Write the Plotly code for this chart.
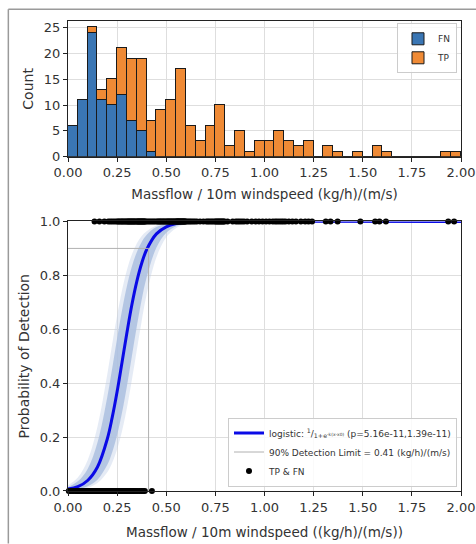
import plotly.graph_objects as go

# ---------------- data ----------------
# histogram: 40 bins of width 0.05 between 0 and 2
bin_width = 0.05
bin_left = [round(i * 0.05, 2) for i in range(40)]
fn_counts = [6, 11, 24, 11, 10, 12, 7, 5, 1, 0,
             0, 0, 0, 0, 0, 0, 0, 0, 0, 0,
             0, 0, 0, 0, 0, 0, 0, 0, 0, 0,
             0, 0, 0, 0, 0, 0, 0, 0, 0, 0]
tp_counts = [0, 0, 1, 2, 5, 9, 12, 14, 6, 9,
             11, 17, 6, 3, 6, 10, 2, 5, 1, 3,
             3, 5, 3, 2, 3, 0, 2, 1, 0, 1,
             0, 2, 1, 0, 0, 0, 0, 0, 1, 1]

# fitted probability of detection curve and its confidence bands
curve_x = [0, 0.05, 0.1, 0.15, 0.2, 0.225, 0.25, 0.275, 0.3, 0.325, 0.35, 0.375,
           0.4, 0.45, 0.5, 0.55, 0.6, 0.7, 2.0]
curve_p = [0.007, 0.016, 0.039, 0.089, 0.193, 0.273, 0.369, 0.478, 0.588, 0.691, 0.777, 0.845,
           0.895, 0.954, 0.980, 0.992, 0.997, 0.9994, 1.0]
inner_hi = [0.015, 0.036, 0.082, 0.180, 0.349, 0.455, 0.567, 0.671, 0.761, 0.833, 0.886, 0.924,
            0.950, 0.979, 0.991, 0.996, 0.9985, 0.9998, 1.0]
inner_lo = [0.003, 0.007, 0.018, 0.042, 0.097, 0.144, 0.208, 0.291, 0.390, 0.500, 0.610, 0.710,
            0.792, 0.903, 0.958, 0.982, 0.993, 0.9988, 1.0]
outer_hi = [0.021, 0.050, 0.114, 0.239, 0.433, 0.545, 0.651, 0.745, 0.820, 0.877, 0.918, 0.946,
            0.964, 0.985, 0.994, 0.9975, 0.999, 1.0, 1.0]
outer_lo = [0.002, 0.005, 0.012, 0.030, 0.070, 0.105, 0.155, 0.223, 0.309, 0.412, 0.522, 0.631,
            0.728, 0.867, 0.941, 0.975, 0.9895, 0.9982, 1.0]

detection_limit = 0.41
detection_level = 0.9

# individual samples: TP detected (1), FN missed (0)
tp_x = [0.135,
        0.16, 0.185,
        0.205, 0.215, 0.225, 0.235, 0.245,
        0.253, 0.258, 0.264, 0.27, 0.275, 0.28, 0.286, 0.291, 0.297,
        0.302, 0.306, 0.31, 0.314, 0.318, 0.322, 0.326, 0.33, 0.334, 0.338, 0.342, 0.347,
        0.352, 0.355, 0.358, 0.362, 0.365, 0.368, 0.372, 0.375, 0.378, 0.382, 0.385, 0.388, 0.392, 0.396,
        0.404, 0.412, 0.42, 0.428, 0.436, 0.444,
        0.453, 0.458, 0.464, 0.469, 0.474, 0.48, 0.485, 0.49, 0.496,
        0.502, 0.506, 0.511, 0.515, 0.52, 0.524, 0.529, 0.533, 0.538, 0.542, 0.547,
        0.551, 0.554, 0.557, 0.56, 0.562, 0.565, 0.568, 0.571, 0.574, 0.577, 0.58, 0.583,
        0.586, 0.589, 0.592, 0.595, 0.598,
        0.604, 0.612, 0.62, 0.628, 0.637, 0.646,
        0.656, 0.672, 0.689,
        0.704, 0.712, 0.72, 0.729, 0.737, 0.746,
        0.752, 0.757, 0.762, 0.767, 0.772, 0.777, 0.782, 0.787, 0.792, 0.797,
        0.812, 0.838,
        0.854, 0.864, 0.874, 0.885, 0.896,
        0.912, 0.935,
        0.955, 0.972, 0.99,
        1.008, 1.025, 1.042,
        1.054, 1.064, 1.075, 1.086, 1.096,
        1.107, 1.124, 1.142,
        1.16, 1.185,
        1.207, 1.224, 1.242,
        1.312, 1.336,
        1.372,
        1.488,
        1.563, 1.585,
        1.618,
        1.935,
        1.965]
fn_x = [0.004, 0.012, 0.021, 0.029, 0.038, 0.046,
        0.052, 0.056, 0.061, 0.065, 0.07, 0.074, 0.078, 0.083, 0.087, 0.092, 0.097,
        0.101, 0.103, 0.105, 0.107, 0.109, 0.111, 0.113, 0.115, 0.117, 0.119, 0.121, 0.123,
        0.125, 0.127, 0.129, 0.131, 0.133, 0.135, 0.137, 0.139, 0.141, 0.143, 0.145, 0.148,
        0.152, 0.156, 0.161, 0.165, 0.17, 0.174, 0.178, 0.183, 0.187, 0.192, 0.197,
        0.203, 0.208, 0.213, 0.218, 0.223, 0.228, 0.233, 0.238, 0.243, 0.248,
        0.252, 0.256, 0.26, 0.264, 0.268, 0.272, 0.276, 0.28, 0.284, 0.288, 0.292, 0.296,
        0.304, 0.311, 0.318, 0.325, 0.332, 0.339, 0.346,
        0.355, 0.364, 0.373, 0.382, 0.391,
        0.427]

x_ticks = [0, 0.25, 0.5, 0.75, 1.0, 1.25, 1.5, 1.75, 2.0]
count_ticks = [0, 5, 10, 15, 20, 25]
prob_ticks = [0, 0.2, 0.4, 0.6, 0.8, 1.0]

# ---------------- figure ----------------
FONT = "DejaVu Sans"
BLUE = "#3a76b4"
ORANGE = "#ef8a35"
GRID = "#dedede"

W, H = 476, 544
ML, MR, MT, MB = 67.7, 15, 20.7, 52.5
plot_h = H - MT - MB


def ypaper(px):
    return (H - MB - px) / plot_h


def xpaper(px):
    return (px - ML) / (W - ML - MR)


bin_centers = [b + bin_width / 2 for b in bin_left]

fig = go.Figure()

fig.add_trace(go.Bar(x=bin_centers, y=fn_counts, width=bin_width, name="FN",
                     marker=dict(color=BLUE, line=dict(color="#1a1a1a", width=1)),
                     xaxis="x", yaxis="y", legend="legend"))
fig.add_trace(go.Bar(x=bin_centers, y=tp_counts, width=bin_width, name="TP",
                     marker=dict(color=ORANGE, line=dict(color="#1a1a1a", width=1)),
                     xaxis="x", yaxis="y", legend="legend"))

# bands
fig.add_trace(go.Scatter(x=curve_x, y=outer_lo, mode="lines", line=dict(width=0, shape="spline"),
                         showlegend=False, hoverinfo="skip", xaxis="x2", yaxis="y2"))
fig.add_trace(go.Scatter(x=curve_x, y=outer_hi, mode="lines", line=dict(width=0, shape="spline"),
                         fill="tonexty", fillcolor="rgba(190,206,230,0.4)",
                         showlegend=False, hoverinfo="skip", xaxis="x2", yaxis="y2"))
fig.add_trace(go.Scatter(x=curve_x, y=inner_lo, mode="lines", line=dict(width=0, shape="spline"),
                         showlegend=False, hoverinfo="skip", xaxis="x2", yaxis="y2"))
fig.add_trace(go.Scatter(x=curve_x, y=inner_hi, mode="lines", line=dict(width=0, shape="spline"),
                         fill="tonexty", fillcolor="rgba(172,192,223,0.85)",
                         showlegend=False, hoverinfo="skip", xaxis="x2", yaxis="y2"))

logistic_label = ("logistic: <sup>1</sup>/<sub>1+e<sup>-k(x-x0)</sup></sub>"
                  " (p=5.16e-11,1.39e-11)")
fig.add_trace(go.Scatter(x=curve_x, y=curve_p, mode="lines",
                         line=dict(color="#0a0ae6", width=3, shape="spline"),
                         name=logistic_label, xaxis="x2", yaxis="y2", legend="legend2"))
fig.add_trace(go.Scatter(x=[0, detection_limit, detection_limit],
                         y=[detection_level, detection_level, 0], mode="lines",
                         line=dict(color="#b0b0b0", width=1),
                         name="90% Detection Limit = 0.41 (kg/h)/(m/s)",
                         xaxis="x2", yaxis="y2", legend="legend2"))
fig.add_trace(go.Scatter(x=tp_x + fn_x, y=[1] * len(tp_x) + [0] * len(fn_x), mode="markers",
                         marker=dict(color="black", size=6), cliponaxis=False,
                         name="TP & FN", xaxis="x2", yaxis="y2", legend="legend2"))

axis_common = dict(showgrid=True, gridcolor=GRID, gridwidth=1, showline=True,
                   linecolor="#222", linewidth=1, mirror=True, ticks="outside",
                   ticklen=4, tickcolor="#222", tickfont=dict(size=13, color="#333"),
                   zeroline=False, automargin=False)

top_bottom = ypaper(156.7)
bot_top = ypaper(221.5)

fig.update_layout(
    width=W, height=H,
    margin=dict(l=ML, r=MR, t=MT, b=MB),
    paper_bgcolor="white", plot_bgcolor="white",
    barmode="stack", bargap=0,
    font=dict(family=FONT, size=13, color="#333"),
    xaxis=dict(domain=[0, 1], anchor="y", range=[0, 2], tickvals=x_ticks, tickformat=".2f",
               title=dict(text="Massflow / 10m windspeed (kg/h)/(m/s)", font=dict(size=13.5),
                          standoff=10),
               **axis_common),
    yaxis=dict(domain=[top_bottom, 1], anchor="x", range=[0, 26.25], tickvals=count_ticks,
               title=dict(text="Count", font=dict(size=14), standoff=6),
               **axis_common),
    xaxis2=dict(domain=[0, 1], anchor="y2", range=[0, 2], tickvals=x_ticks, tickformat=".2f",
                title=dict(text="Massflow / 10m windspeed ((kg/h)/(m/s))", font=dict(size=13.5),
                           standoff=13),
                **axis_common),
    yaxis2=dict(domain=[0, bot_top], anchor="x2", range=[0, 1], tickvals=prob_ticks,
                tickformat=".1f",
                title=dict(text="Probability of Detection", font=dict(size=14), standoff=6),
                **axis_common),
    legend=dict(x=xpaper(457), y=ypaper(23), xanchor="right", yanchor="top",
                bgcolor="rgba(255,255,255,0.85)", bordercolor="#cccccc", borderwidth=1,
                font=dict(size=9, color="#333"), itemwidth=30, traceorder="normal"),
    legend2=dict(x=xpaper(457), y=ypaper(487), xanchor="right", yanchor="bottom",
                 bgcolor="rgba(255,255,255,0.85)", bordercolor="#cccccc", borderwidth=1,
                 font=dict(size=9, color="#333"), itemwidth=30, traceorder="normal"),
    shapes=[dict(type="line", xref="paper", yref="paper",
                 x0=xpaper(8), x1=xpaper(8), y0=ypaper(544), y1=ypaper(9),
                 line=dict(color="#9a9a9a", width=1.5), layer="below"),
            dict(type="line", xref="paper", yref="paper",
                 x0=xpaper(8), x1=xpaper(476), y0=ypaper(9), y1=ypaper(9),
                 line=dict(color="#9a9a9a", width=1.5), layer="below")],
    showlegend=True,
)

fig.write_html("out.html",
               config={"displayModeBar": False},
               post_script=("document.documentElement.style.overflow='hidden';"
                            "document.body.style.margin='0';"
                            "document.body.style.overflow='hidden';"))
